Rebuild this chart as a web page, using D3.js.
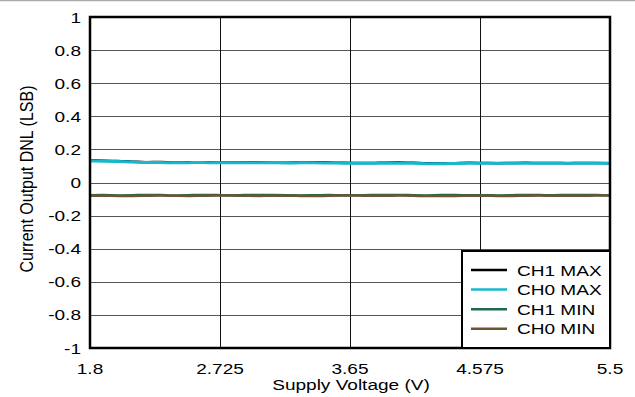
<!DOCTYPE html>
<html><head><meta charset="utf-8">
<script src="https://cdn.jsdelivr.net/npm/d3@7"></script>
<style>body{margin:0;background:#fff}svg{display:block}text{font-family:"Liberation Sans",Arial,sans-serif}</style>
</head><body>
<svg id="c" width="635" height="397"></svg>
<script>
const voltages = [1.8,1.9,2.0,2.1,2.2,2.3,2.4,2.5,2.6,2.7,2.8,2.9,3.0,3.1,3.2,3.3,3.4,3.5,3.6,3.7,3.8,3.9,4.0,4.1,4.2,4.3,4.4,4.5,4.6,4.7,4.8,4.9,5.0,5.1,5.2,5.3,5.4,5.5];
const ch1Max = [0.133,0.132,0.130,0.126,0.123,0.124,0.121,0.122,0.123,0.121,0.121,0.122,0.122,0.120,0.120,0.121,0.122,0.121,0.119,0.118,0.118,0.120,0.121,0.119,0.116,0.115,0.117,0.119,0.118,0.117,0.118,0.119,0.118,0.118,0.117,0.118,0.118,0.117];
const ch0Max = [0.130,0.129,0.127,0.124,0.121,0.121,0.119,0.120,0.121,0.119,0.119,0.120,0.120,0.119,0.118,0.119,0.119,0.118,0.117,0.116,0.116,0.117,0.117,0.116,0.114,0.113,0.115,0.116,0.116,0.116,0.116,0.117,0.116,0.116,0.116,0.117,0.117,0.116];
const ch1Min = [-0.077,-0.076,-0.078,-0.077,-0.075,-0.076,-0.078,-0.077,-0.075,-0.076,-0.077,-0.076,-0.075,-0.076,-0.077,-0.078,-0.077,-0.076,-0.077,-0.077,-0.076,-0.076,-0.075,-0.077,-0.078,-0.076,-0.076,-0.077,-0.077,-0.078,-0.077,-0.075,-0.076,-0.077,-0.075,-0.075,-0.076,-0.077];
const ch0Min = [-0.080,-0.080,-0.081,-0.081,-0.080,-0.079,-0.080,-0.081,-0.080,-0.079,-0.079,-0.080,-0.081,-0.080,-0.080,-0.081,-0.082,-0.080,-0.079,-0.079,-0.080,-0.080,-0.079,-0.080,-0.082,-0.081,-0.081,-0.080,-0.080,-0.081,-0.081,-0.080,-0.079,-0.080,-0.080,-0.080,-0.079,-0.079];
const seriesNames = ["CH1 MAX","CH0 MAX","CH1 MIN","CH0 MIN"];
const seriesColors = ["#000000","#17b8cc","#1d6a4c","#6e5532"];
const xTicks = [1.8,2.725,3.65,4.575,5.5];
const xTickLabels = ["1.8","2.725","3.65","4.575","5.5"];
const yTicks = [-1,-0.8,-0.6,-0.4,-0.2,0,0.2,0.4,0.6,0.8,1];
const yTickLabels = ["-1","-0.8","-0.6","-0.4","-0.2","0","0.2","0.4","0.6","0.8","1"];

const SX = 1.27, FS = 15;
const svg = d3.select("#c");
const L=90,T=17,R=610,B=348;
const x = d3.scaleLinear().domain([1.8,5.5]).range([L,R]);
const y = d3.scaleLinear().domain([-1,1]).range([B,T]);

function stxt(g, px, py, s, anchor, extra){
  return g.append("text").attr("transform",`translate(${px},${py}) scale(${SX},1)${extra||""}`)
    .attr("text-anchor",anchor).attr("font-size",FS).attr("fill","#000").text(s);
}

svg.append("line").attr("x1",0).attr("x2",635).attr("y1",0.5).attr("y2",0.5).attr("stroke","#aaa").attr("stroke-width",1.5);

// grid
svg.append("g").selectAll("line").data(yTicks.slice(1,-1)).join("line")
  .attr("x1",L).attr("x2",R).attr("y1",d=>Math.round(y(d))+0.5).attr("y2",d=>Math.round(y(d))+0.5)
  .attr("stroke","#555").attr("stroke-width",1);
svg.append("g").selectAll("line").data(xTicks.slice(1,-1)).join("line")
  .attr("y1",T).attr("y2",B).attr("x1",d=>Math.round(x(d))+0.5).attr("x2",d=>Math.round(x(d))+0.5)
  .attr("stroke","#111").attr("stroke-width",1);

// tick labels (via scales)
const gx = svg.append("g");
xTicks.forEach((t,i)=>stxt(gx, x(t), 374, xTickLabels[i], "middle"));
const gy = svg.append("g");
yTicks.forEach((t,i)=>stxt(gy, 81, y(t)+5.5, yTickLabels[i], "end"));

// series
const allSeries = [ch1Max,ch0Max,ch1Min,ch0Min];
const line = d3.line().x((d,i)=>x(voltages[i])).y(d=>y(d)).curve(d3.curveMonotoneX);
[0,2,3,1].forEach(k=>{
  svg.append("path").datum(allSeries[k]).attr("d",line).attr("fill","none")
    .attr("stroke",seriesColors[k]).attr("stroke-width",k===1?3:2.5);
});

// frame
svg.append("rect").attr("x",L).attr("y",T).attr("width",R-L).attr("height",B-T)
  .attr("fill","none").attr("stroke","#000").attr("stroke-width",2.5);

// legend
const lg = svg.append("g");
lg.append("rect").attr("x",462).attr("y",251).attr("width",R-462).attr("height",B-251)
  .attr("fill","#fff").attr("stroke","#000").attr("stroke-width",2);
seriesNames.forEach((n,i)=>{
  const yy = 270 + i*19.6;
  lg.append("line").attr("x1",471).attr("x2",507).attr("y1",yy).attr("y2",yy)
    .attr("stroke",seriesColors[i]).attr("stroke-width",2.5);
  stxt(lg, 517, yy+5.5, n, "start");
});

// titles
stxt(svg, 351, 390, "Supply Voltage (V)", "middle");
svg.append("text").attr("transform",`translate(33,179) scale(1.13,1) rotate(-90)`)
  .attr("text-anchor","middle").attr("font-size",16).attr("fill","#000").text("Current Output DNL (LSB)");
</script>
</body></html>
